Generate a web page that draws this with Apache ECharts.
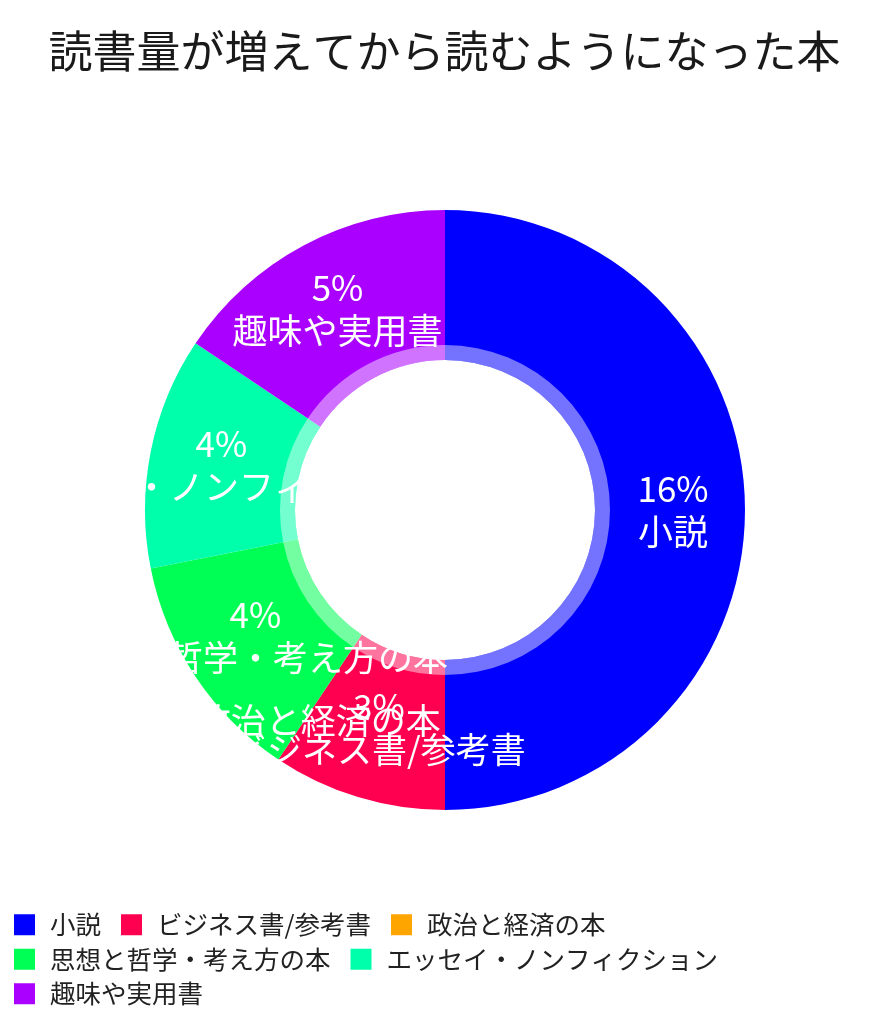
<!DOCTYPE html>
<html>
<head>
<meta charset="utf-8">
<script src="https://cdn.jsdelivr.net/npm/echarts@6/dist/echarts.min.js"></script>
<style>html,body{margin:0;padding:0;background:#fff;}#c{width:889px;height:1024px;}</style>
</head>
<body>
<div id="c"></div>
<script>
const titleText = '読書量が増えてから読むようになった本';
const categories = ['小説', 'ビジネス書/参考書', '政治と経済の本', '思想と哲学・考え方の本', 'エッセイ・ノンフィクション', '趣味や実用書'];
const values = [16, 3, 0, 4, 4, 5];
const colors = ['#0000FF', '#FF0050', '#FFA500', '#00FF55', '#00FFAA', '#AA00FF'];

const FONT = '"Noto Sans CJK JP", "Noto Sans", sans-serif';
const chart = echarts.init(document.getElementById('c'));
const data = categories.map((n, i) => ({ name: n, value: values[i], itemStyle: { color: colors[i] } }));
const ringData = categories.map((n, i) => ({ name: n, value: values[i] }));

chart.setOption({
  animation: false,
  textStyle: { fontFamily: FONT },
  title: {
    text: titleText,
    left: 'center',
    top: 24,
    textStyle: { fontSize: 44, fontWeight: 'normal', color: '#1a1a1a', fontFamily: FONT }
  },
  legend: {
    data: categories,
    left: 9,
    top: 907,
    width: 800,
    itemWidth: 21,
    itemHeight: 21,
    itemGap: 9,
    icon: 'rect',
    textStyle: { fontSize: 25.5, color: '#222', lineHeight: 14, padding: [0, 11, 0, 10], fontFamily: FONT }
  },
  series: [
    {
      type: 'pie',
      center: [445, 510],
      radius: [150, 300],
      startAngle: 90,
      clockwise: true,
      avoidLabelOverlap: false,
      silent: true,
      label: {
        show: true,
        position: 'inside',
        color: '#fff',
        fontSize: 35,
        lineHeight: 43,
        fontFamily: FONT,
        formatter: p => (p.value > 0 ? p.value + '%' : '') + '\n' + p.name
      },
      labelLine: { show: false },
      data: data
    },
    {
      type: 'pie',
      center: [445, 510],
      radius: [150, 165],
      startAngle: 90,
      clockwise: true,
      silent: true,
      label: { show: false },
      labelLine: { show: false },
      itemStyle: { color: '#ffffff', opacity: 0.45 },
      data: ringData
    }
  ]
});

// ECharts hides labels of zero-angle slices; the reference still shows the name.
function showZeroLabels() {
  const d = chart.getModel().getSeriesByIndex(0).getData();
  for (let i = 0; i < d.count(); i++) {
    const el = d.getItemGraphicEl(i);
    const t = el && el.getTextContent && el.getTextContent();
    if (t && t.ignore) { t.ignore = false; t.markRedraw(); }
  }
  chart.getZr().refreshImmediately();
}
showZeroLabels();
chart.on('finished', function () {
  const d = chart.getModel().getSeriesByIndex(0).getData();
  for (let i = 0; i < d.count(); i++) {
    const el = d.getItemGraphicEl(i);
    const t = el && el.getTextContent && el.getTextContent();
    if (t && t.ignore) { showZeroLabels(); break; }
  }
});
</script>
</body>
</html>
